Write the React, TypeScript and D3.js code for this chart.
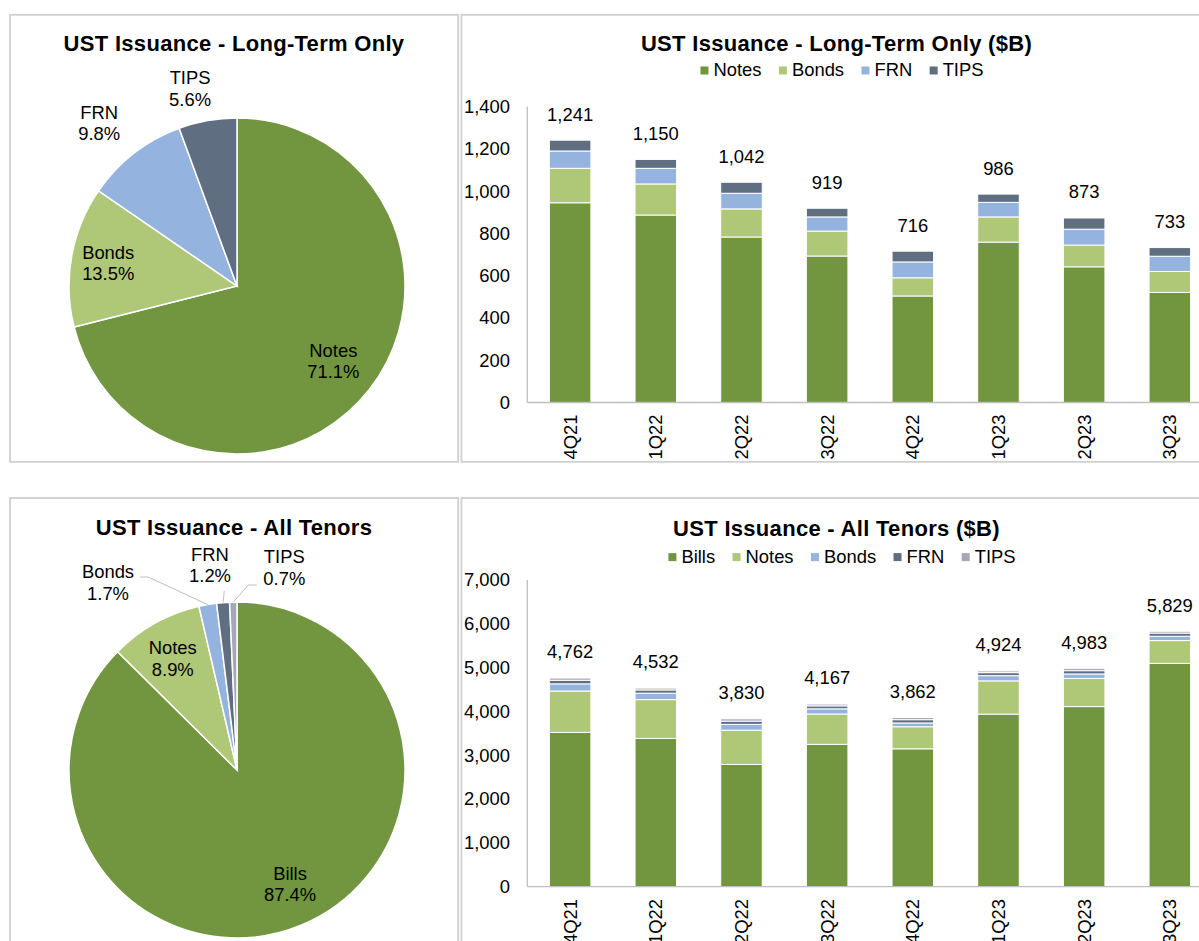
import React from 'react';
import * as d3 from 'd3';

// ---------- DATA ----------
const quarters = ['4Q21', '1Q22', '2Q22', '3Q22', '4Q22', '1Q23', '2Q23', '3Q23'];
const ltNotes = [945, 887, 783, 693, 504, 759, 642, 521];
const ltBonds = [163, 147, 133, 118, 86, 119, 103, 99];
const ltFrn = [82, 74, 74, 67, 75, 69, 75, 72];
const ltTips = [51, 42, 52, 41, 51, 39, 53, 41];
const ltTotals = [1241, 1150, 1042, 919, 716, 986, 873, 733];
const bills = [3521, 3382, 2788, 3248, 3146, 3938, 4110, 5096];
const allTotals = [4762, 4532, 3830, 4167, 3862, 4924, 4983, 5829];
const ltTicks = [0, 200, 400, 600, 800, 1000, 1200, 1400];
const allTicks = [0, 1000, 2000, 3000, 4000, 5000, 6000, 7000];

const ltNames = ['Notes', 'Bonds', 'FRN', 'TIPS'];
const allNames = ['Bills', 'Notes', 'Bonds', 'FRN', 'TIPS'];

// ---------- STYLE ----------
const C_GREEN = '#71963F';
const C_LGREEN = '#AFC878';
const C_LBLUE = '#95B3DF';
const C_SLATE = '#5F6E80';
const C_GRAY = '#A6A8B4';
const FONT = "'Liberation Sans', Arial, Helvetica, sans-serif";
const FS = 18.4;
const TITLE_FS = 22;
const TITLE_LS = 0.3;
const BORDER = '#CFCFCF';
const AXIS = '#BFBFBF';

const AXIS_X = 527.3;
const STEP = 85.67;

let _ctx: CanvasRenderingContext2D | null = null;
function measure(text: string, size: number, weight = 'normal') {
  if (!_ctx) {
    const c = document.createElement('canvas');
    _ctx = c.getContext('2d');
  }
  if (!_ctx) return text.length * size * 0.55;
  _ctx.font = `${weight} ${size}px 'Liberation Sans', Arial, sans-serif`;
  return _ctx.measureText(text).width;
}

const fmt = d3.format(',');

type BarProps = {
  title: string;
  titleY: number;
  legendY: number;
  names: string[];
  values: number[][];
  colors: string[];
  totals: number[];
  ticks: number[];
  yZero: number;
  yTop: number;
  labelGap: number;
};

function BarPanel(p: BarProps) {
  const x = d3
    .scaleBand<string>()
    .domain(quarters)
    .range([AXIS_X, AXIS_X + quarters.length * STEP])
    .paddingInner(0.515)
    .paddingOuter(0.2575);
  const yMax = p.ticks[p.ticks.length - 1];
  const y = d3.scaleLinear().domain([0, yMax]).range([p.yZero, p.yTop]);
  const rows = quarters.map((q, i) => {
    const o: any = { q };
    p.names.forEach((n, j) => (o[n] = p.values[j][i]));
    return o;
  });
  const stacked = d3.stack<any>().keys(p.names)(rows);

  // legend layout
  const sq = 8;
  const gapSqText = 5;
  const gapItems = 17.4;
  const widths = p.names.map((n) => measure(n, FS));
  const total = widths.reduce((a, w) => a + sq + gapSqText + w, 0) + gapItems * (p.names.length - 1);
  let lx = 842 - total / 2;
  const legendItems = p.names.map((n, i) => {
    const item = { n, x: lx, color: p.colors[i] };
    lx += sq + gapSqText + widths[i] + gapItems;
    return item;
  });

  return (
    <g>
      <text
        x={836.5}
        y={p.titleY}
        textAnchor="middle"
        fontFamily={FONT}
        fontSize={TITLE_FS}
        fontWeight="bold"
        letterSpacing={TITLE_LS}
        fill="#000"
      >
        {p.title}
      </text>
      {legendItems.map((it) => (
        <g key={it.n}>
          <rect x={it.x} y={p.legendY - 6.4 - sq / 2 + 0.5} width={sq} height={sq} fill={it.color} />
          <text x={it.x + sq + gapSqText} y={p.legendY} fontFamily={FONT} fontSize={FS} fill="#000">
            {it.n}
          </text>
        </g>
      ))}
      {/* axes */}
      <line x1={AXIS_X} x2={AXIS_X} y1={y(0)} y2={y(yMax)} stroke={AXIS} strokeWidth={1.3} />
      {p.ticks.map((t) => (
        <text key={t} x={510} y={y(t) + 6.4} textAnchor="end" fontFamily={FONT} fontSize={FS} fill="#000">
          {fmt(t)}
        </text>
      ))}
      {stacked.map((s, j) => (
        <g key={p.names[j]} fill={p.colors[j]}>
          {s.map((d, i) => (
            <rect
              key={i}
              x={x(quarters[i])}
              y={y(d[1])}
              width={x.bandwidth()}
              height={Math.max(0, y(d[0]) - y(d[1]))}
              stroke="#fff"
              strokeWidth={1}
            />
          ))}
        </g>
      ))}
      <line x1={AXIS_X} x2={1215} y1={y(0)} y2={y(0)} stroke={AXIS} strokeWidth={1.3} />
      {p.totals.map((t, i) => (
        <text
          key={i}
          x={(x(quarters[i]) as number) + x.bandwidth() / 2}
          y={y(t) - 19.6}
          textAnchor="middle"
          fontFamily={FONT}
          fontSize={FS}
          fill="#000"
        >
          {fmt(t)}
        </text>
      ))}
      {quarters.map((q) => (
        <text
          key={q}
          transform={`translate(${(x(q) as number) + x.bandwidth() / 2},${y(0) + p.labelGap}) rotate(-90)`}
          textAnchor="end"
          dy="0.35em"
          fontFamily={FONT}
          fontSize={FS}
          fill="#000"
        >
          {q}
        </text>
      ))}
    </g>
  );
}

type LabelSpec = { k?: number; dx: number; dy: number; leader?: [number, number][] };

type PieProps = {
  title: string;
  titleY: number;
  cx: number;
  cy: number;
  r: number;
  names: string[];
  values: number[];
  colors: string[];
  labels: LabelSpec[];
};

function PiePanel(p: PieProps) {
  const data = p.names.map((n, i) => ({ n, v: p.values[i], c: p.colors[i] }));
  const pie = d3
    .pie<any>()
    .sort(null)
    .value((d) => d.v)
    .startAngle(0)
    .endAngle(Math.PI * 2);
  const arcs = pie(data);
  const arc = d3.arc<any>().innerRadius(0).outerRadius(p.r);
  const sum = d3.sum(p.values);
  const pct = d3.format('.1%');
  return (
    <g>
      <text
        x={234}
        y={p.titleY}
        textAnchor="middle"
        fontFamily={FONT}
        fontSize={TITLE_FS}
        fontWeight="bold"
        letterSpacing={TITLE_LS}
        fill="#000"
      >
        {p.title}
      </text>
      <g transform={`translate(${p.cx},${p.cy})`}>
        {arcs.map((a, i) => (
          <path key={i} d={arc(a) as string} fill={a.data.c} stroke="#fff" strokeWidth={1.5} />
        ))}
        {arcs.map((a, i) => {
          const spec = p.labels[i];
          const mid = (a.startAngle + a.endAngle) / 2;
          let lx = spec.dx;
          let ly = spec.dy;
          if (spec.k !== undefined) {
            lx += Math.sin(mid) * p.r * spec.k;
            ly += -Math.cos(mid) * p.r * spec.k;
          }
          const edge: [number, number] = [Math.sin(mid) * p.r, -Math.cos(mid) * p.r];
          return (
            <g key={'l' + i}>
              {spec.leader && (
                <polyline
                  points={[...spec.leader, edge].map((pt) => pt.join(',')).join(' ')}
                  fill="none"
                  stroke={AXIS}
                  strokeWidth={1}
                />
              )}
              <text textAnchor="middle" fontFamily={FONT} fontSize={FS} fill="#000">
                <tspan x={lx} y={ly - 10.75 + 6.4}>
                  {a.data.n}
                </tspan>
                <tspan x={lx} y={ly + 10.75 + 6.4}>
                  {pct(a.data.v / sum)}
                </tspan>
              </text>
            </g>
          );
        })}
      </g>
    </g>
  );
}

export default function App() {
  const last = quarters.length - 1;
  const ltPieValues = [ltNotes[last], ltBonds[last], ltFrn[last], ltTips[last]];
  const allPieValues = [bills[last], ltNotes[last], ltBonds[last], ltFrn[last], ltTips[last]];

  return (
    <svg
      width={1199}
      height={941}
      style={{ position: 'absolute', left: 0, top: 0, background: '#fff' }}
      xmlns="http://www.w3.org/2000/svg"
    >
      <rect x={0} y={0} width={1199} height={941} fill="#fff" />
      {/* panel borders */}
      <rect x={10} y={14.8} width={448.2} height={447} fill="none" stroke={BORDER} strokeWidth={1.8} />
      <rect x={461.4} y={14.8} width={760} height={447} fill="none" stroke={BORDER} strokeWidth={1.8} />
      <rect x={10} y={498} width={448.2} height={460} fill="none" stroke={BORDER} strokeWidth={1.8} />
      <rect x={461.4} y={498} width={760} height={460} fill="none" stroke={BORDER} strokeWidth={1.8} />

      <PiePanel
        title="UST Issuance - Long-Term Only"
        titleY={50.7}
        cx={237}
        cy={286}
        r={168}
        names={ltNames}
        values={ltPieValues}
        colors={[C_GREEN, C_LGREEN, C_LBLUE, C_SLATE]}
        labels={[
          { k: 0.727, dx: 0, dy: 0 },
          { k: 0.779, dx: 0, dy: 0 },
          { k: 1.27, dx: -7, dy: 5.6 },
          { k: 1.21, dx: -11.4, dy: 2.7 },
        ]}
      />
      <PiePanel
        title="UST Issuance - All Tenors"
        titleY={535}
        cx={237}
        cy={770}
        r={168}
        names={allNames}
        values={allPieValues}
        colors={[C_GREEN, C_LGREEN, C_LBLUE, C_SLATE, C_GRAY]}
        labels={[
          { k: 0.749, dx: 4.6, dy: -1.9 },
          { k: 0.766, dx: -1.5, dy: 0.8 },
          { dx: -129, dy: -187.5, leader: [[-97, -193], [-89, -193]] },
          { dx: -27, dy: -204.7, leader: [[-12.7, -179]] },
          { dx: 47.3, dy: -202.2, leader: [[19.7, -185], [11.3, -185]] },
        ]}
      />
      <BarPanel
        title="UST Issuance - Long-Term Only ($B)"
        titleY={51.4}
        legendY={76.4}
        names={ltNames}
        values={[ltNotes, ltBonds, ltFrn, ltTips]}
        colors={[C_GREEN, C_LGREEN, C_LBLUE, C_SLATE]}
        totals={ltTotals}
        ticks={ltTicks}
        yZero={402.5}
        yTop={106.6}
        labelGap={12}
      />
      <BarPanel
        title="UST Issuance - All Tenors ($B)"
        titleY={535.5}
        legendY={563}
        names={allNames}
        values={[bills, ltNotes, ltBonds, ltFrn, ltTips]}
        colors={[C_GREEN, C_LGREEN, C_LBLUE, C_SLATE, C_GRAY]}
        totals={allTotals}
        ticks={allTicks}
        yZero={886.6}
        yTop={580}
        labelGap={12.5}
      />
    </svg>
  );
}
